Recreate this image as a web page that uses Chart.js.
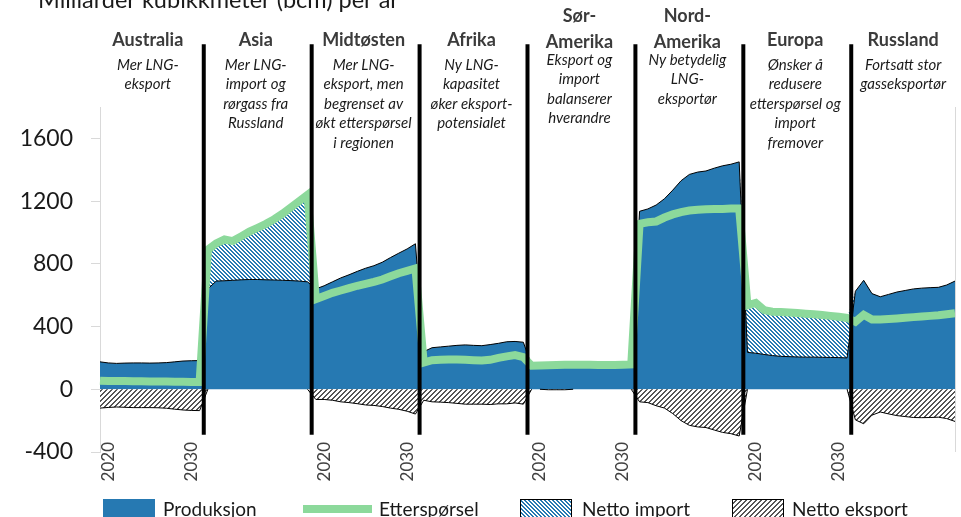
<!DOCTYPE html>
<html>
<head>
<meta charset="utf-8">
<script src="https://cdn.jsdelivr.net/npm/chart.js@4/dist/chart.umd.min.js"></script>
<style>
  html, body { margin: 0; padding: 0; background: #fff; overflow: hidden; }
  #wrap { width: 961px; height: 517px; }
</style>
</head>
<body>
<div id="wrap"><canvas id="chart"></canvas></div>
<script>
const regions = ['Australia', 'Asia', 'Midtøsten', 'Afrika', 'Sør-Amerika', 'Nord-Amerika', 'Europa', 'Russland'];
const years = [2019, 2020, 2021, 2022, 2023, 2024, 2025, 2026, 2027, 2028, 2029, 2030, 2031];
const tickYears = [2020, 2030];
const labeledPanels = [0, 2, 4, 6];
const yTicks = [-400, 0, 400, 800, 1200, 1600];

// mrd. m3 per year, one row per region
const production = [
  175, 168, 165, 167, 168, 168, 167, 168, 170, 175, 180, 182, 183,
  640, 690, 692, 695, 698, 700, 700, 698, 697, 695, 693, 690, 685,
  640, 660, 685, 710, 730, 752, 772, 788, 810, 840, 868, 895, 928,
  240, 265, 270, 275, 280, 283, 280, 278, 285, 293, 303, 305, 300,
  150, 148, 148, 149, 150, 150, 150, 150, 150, 150, 150, 150, 150,
  1135, 1150, 1175, 1215, 1270, 1330, 1370, 1385, 1392, 1410, 1425, 1435, 1450,
  235, 230, 222, 215, 210, 208, 206, 205, 205, 204, 203, 202, 200,
  625, 695, 610, 590, 605, 620, 630, 640, 645, 648, 650, 665, 690
];
const demand = [
  55, 52, 52, 52, 51, 51, 50, 50, 49, 48, 48, 47, 47,
  890, 930, 955, 945, 975, 1005, 1030, 1055, 1085, 1120, 1160, 1200, 1240,
  575, 595, 615, 630, 645, 660, 672, 685, 700, 720, 740, 755, 770,
  170, 185, 188, 190, 190, 188, 185, 183, 188, 200, 210, 218, 205,
  150, 152, 153, 155, 156, 157, 157, 156, 155, 155, 155, 156, 158,
  1055, 1065, 1070, 1095, 1115, 1130, 1140, 1145, 1148, 1150, 1150, 1152, 1152,
  535, 550, 505, 495, 492, 490, 487, 482, 478, 473, 468, 462, 455,
  430, 475, 445, 445, 448, 452, 456, 460, 464, 468, 472, 478, 485
];
const netImport = [
  0, 0, 0, 0, 0, 0, 0, 0, 0, 0, 0, 0, 0,
  250, 240, 263, 250, 277, 305, 330, 357, 388, 425, 467, 510, 555,
  0, 0, 0, 0, 0, 0, 0, 0, 0, 0, 0, 0, 0,
  0, 0, 0, 0, 0, 0, 0, 0, 0, 0, 0, 0, 0,
  0, 4, 5, 6, 6, 7, 7, 6, 5, 5, 5, 6, 8,
  0, 0, 0, 0, 0, 0, 0, 0, 0, 0, 0, 0, 0,
  300, 320, 283, 280, 282, 282, 281, 277, 273, 269, 265, 260, 255,
  0, 0, 0, 0, 0, 0, 0, 0, 0, 0, 0, 0, 0
];
const netExport = [
  -120, -116, -113, -115, -117, -117, -117, -118, -121, -127, -132, -135, -136,
  0, 0, 0, 0, 0, 0, 0, 0, 0, 0, 0, 0, 0,
  -65, -65, -70, -80, -85, -92, -100, -103, -110, -120, -128, -140, -158,
  -70, -80, -82, -85, -90, -95, -95, -95, -97, -93, -93, -87, -95,
  0, 0, -3, -3, -3, 0, 0, 0, 0, 0, 0, 0, 0,
  -80, -85, -105, -120, -155, -200, -230, -240, -244, -260, -275, -283, -298,
  0, 0, 0, 0, 0, 0, 0, 0, 0, 0, 0, 0, 0,
  -195, -220, -165, -145, -157, -168, -174, -180, -181, -180, -178, -187, -205
];

const headings = [['Australia'], ['Asia'], ['Midtøsten'], ['Afrika'], ['Sør-', 'Amerika'], ['Nord-', 'Amerika'], ['Europa'], ['Russland']];
const notes = [
  ['Mer LNG-', 'eksport'],
  ['Mer LNG-', 'import og', 'rørgass fra', 'Russland'],
  ['Mer LNG-', 'eksport, men', 'begrenset av', 'økt etterspørsel', 'i regionen'],
  ['Ny LNG-', 'kapasitet', 'øker eksport-', 'potensialet'],
  ['Eksport og', 'import', 'balanserer', 'hverandre'],
  ['Ny betydelig', 'LNG-', 'eksportør'],
  ['Ønsker å', 'redusere', 'etterspørsel og', 'import', 'fremover'],
  ['Fortsatt stor', 'gasseksportør']
];
const legendLabels = ['Produksjon', 'Etterspørsel', 'Netto import', 'Netto eksport'];
const title = 'Milliarder kubikkmeter (bcm) per år';

const BLUE = '#2679b2';
const GREEN = '#8cd99b';
const n = years.length;

const canvas = document.getElementById('chart');
const ctx0 = canvas.getContext('2d');

function hatch(color, up, s, w) {
  const c = document.createElement('canvas');
  c.width = c.height = s;
  const g = c.getContext('2d');
  g.fillStyle = '#fff';
  g.fillRect(0, 0, s, s);
  g.fillStyle = color;
  for (let y = 0; y < s; y++) {
    for (let x = 0; x < s; x++) {
      const k = up ? (x + y) % s : ((x - y) % s + s) % s;
      if (k < w) g.fillRect(x, y, 1, 1);
    }
  }
  return ctx0.createPattern(c, 'repeat');
}
const importFill = hatch(BLUE, false, 4, 2);
const exportFill = hatch('#555555', true, 5, 2);

const labels = regions.flatMap(r => years.map(yr => r + ' ' + yr));
const tickText = regions.flatMap((r, p) => years.map(yr =>
  labeledPanels.includes(p) && tickYears.includes(yr) ? String(yr) : ''));

// year labels start a bit above the plot bottom, so lift the x box
const liftX = {
  id: 'liftX',
  afterLayout(chart) { chart.scales.x.top -= 14; }
};

const overlay = {
  id: 'overlay',
  afterDraw(chart) {
    const { ctx, chartArea: a } = chart;
    const x = chart.scales.x, y = chart.scales.y;
    ctx.save();

    // right border of plot area
    ctx.strokeStyle = '#d9d9d9';
    ctx.lineWidth = 1;
    ctx.beginPath();
    ctx.moveTo(Math.round(a.right) + 0.5, a.top);
    ctx.lineTo(Math.round(a.right) + 0.5, a.bottom);
    ctx.stroke();

    // separators between regions
    ctx.strokeStyle = '#000';
    ctx.lineWidth = 4;
    for (let p = 1; p < regions.length; p++) {
      const sx = (x.getPixelForValue(p * n - 1) + x.getPixelForValue(p * n)) / 2;
      ctx.beginPath();
      ctx.moveTo(sx, y.getPixelForValue(2200));
      ctx.lineTo(sx, y.getPixelForValue(-290));
      ctx.stroke();
    }

    // region headings + notes
    ctx.textAlign = 'center';
    ctx.textBaseline = 'alphabetic';
    regions.forEach((r, p) => {
      const cx = (x.getPixelForValue(p * n) + x.getPixelForValue(p * n + n - 1)) / 2 - 2;
      const h = headings[p];
      ctx.fillStyle = '#3b3b3b';
      ctx.font = 'bold 18px Lato';
      if (h.length === 1) {
        ctx.fillText(h[0], cx, 46);
      } else {
        ctx.fillText(h[0], cx, 22);
        ctx.fillText(h[1], cx, 48);
      }
      ctx.fillStyle = '#1a1a1a';
      ctx.font = 'italic 15px Lato';
      const top = h.length === 1 ? 70 : 65;
      notes[p].forEach((t, i) => ctx.fillText(t, cx, top + i * 19.4));
    });

    // title, partly cut at the top edge
    ctx.textAlign = 'left';
    ctx.fillStyle = '#1a1a1a';
    ctx.font = '23.5px Lato';
    ctx.fillText(title, 38, 8);

    // legend
    ctx.font = '19px Lato';
    ctx.fillStyle = BLUE;
    ctx.fillRect(103, 499, 52, 22);
    ctx.fillStyle = '#1a1a1a';
    ctx.fillText(legendLabels[0], 163, 516);

    ctx.strokeStyle = GREEN;
    ctx.lineWidth = 8;
    ctx.beginPath();
    ctx.moveTo(303, 509);
    ctx.lineTo(372, 509);
    ctx.stroke();
    ctx.fillText(legendLabels[1], 379, 516);

    [[importFill, 520, 582, 2], [exportFill, 732, 792, 3]].forEach(([fill, bx, tx, i]) => {
      ctx.fillStyle = fill;
      ctx.fillRect(bx, 499, 51, 22);
      ctx.strokeStyle = '#000';
      ctx.lineWidth = 1;
      ctx.strokeRect(bx + 0.5, 499.5, 51, 22);
      ctx.fillStyle = '#1a1a1a';
      ctx.fillText(legendLabels[i], tx, 516);
    });

    ctx.restore();
  }
};

new Chart(canvas, {
  type: 'line',
  data: {
    labels: labels,
    datasets: [
      {
        label: 'Etterspørsel',
        data: demand,
        stack: 'd',
        fill: false,
        borderColor: GREEN,
        borderWidth: 8,
        pointRadius: 0
      },
      {
        label: 'Netto eksport',
        data: netExport,
        stack: 'e',
        fill: 'origin',
        backgroundColor: exportFill,
        borderColor: '#000',
        borderWidth: 1,
        pointRadius: 0,
        segment: {
          borderColor: c => (c.p0.parsed.y === 0 && c.p1.parsed.y === 0) ? 'rgba(0,0,0,0)' : '#000'
        }
      },
      {
        label: 'Produksjon',
        data: production,
        stack: 'p',
        fill: 'origin',
        backgroundColor: BLUE,
        borderColor: '#000',
        borderWidth: 1,
        pointRadius: 0
      },
      {
        label: 'Netto import',
        data: netImport,
        stack: 'p',
        fill: '-1',
        backgroundColor: importFill,
        borderWidth: 0,
        pointRadius: 0
      }
    ]
  },
  options: {
    responsive: true,
    maintainAspectRatio: false,
    animation: false,
    layout: { padding: { left: 0, right: 6, top: 107, bottom: 0 } },
    plugins: { legend: { display: false }, tooltip: { enabled: false } },
    scales: {
      x: {
        grid: { display: false, drawTicks: false },
        border: { display: false },
        ticks: {
          autoSkip: false,
          minRotation: 90,
          maxRotation: 90,
          padding: 4,
          color: '#404040',
          font: { family: 'Lato', size: 17 },
          callback: (v, i) => tickText[i]
        },
        afterFit: s => { s.height = 65; s.paddingLeft = 0; s.paddingRight = 0; }
      },
      y: {
        stacked: true,
        min: -400,
        max: 1800,
        grid: { drawOnChartArea: false, tickLength: 9, color: '#d9d9d9' },
        border: { color: '#d9d9d9' },
        ticks: {
          stepSize: 400,
          padding: 18,
          color: '#1a1a1a',
          font: { family: 'Lato', size: 23 },
          callback: v => String(v)
        },
        afterBuildTicks: s => { s.ticks = yTicks.map(v => ({ value: v })); },
        afterFit: s => { s.width = 100; }
      }
    }
  },
  plugins: [liftX, overlay]
});
</script>
</body>
</html>
